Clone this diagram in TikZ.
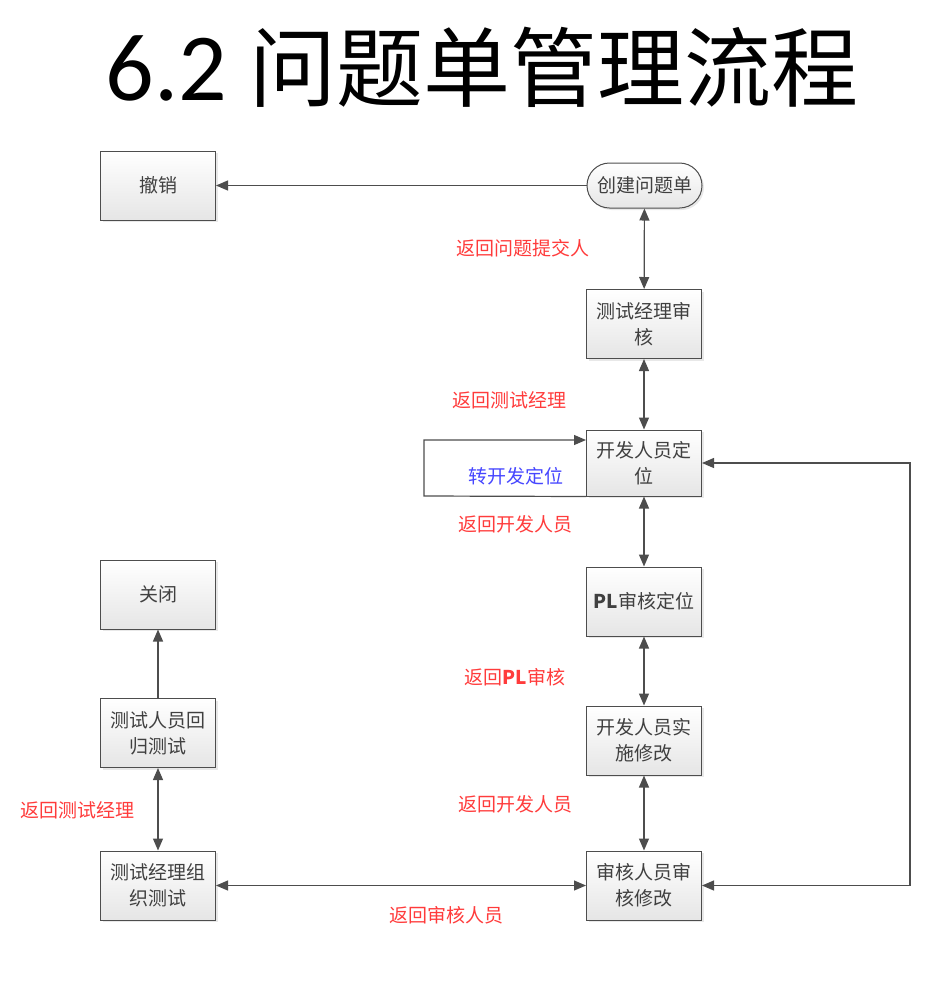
\documentclass[tikz,border=0pt]{standalone}
\usepackage{fontspec}
\setmainfont{Noto Sans CJK SC}
\newfontfamily\titlelat{Carlito}
\usetikzlibrary{arrows.meta,shapes.misc,shadows}
\definecolor{linec}{HTML}{4D4D4D}
\definecolor{txtc}{HTML}{404040}
\definecolor{redc}{HTML}{FF3B3B}
\definecolor{bluec}{HTML}{4646FF}
\tikzset{
  box/.style={draw=linec, line width=1pt, top color=white, bottom color=black!10,
    minimum width=115pt, minimum height=69pt, align=center, text=txtc,
    font=\fontsize{19}{26}\selectfont, inner sep=0pt,
    drop shadow={opacity=0.18, shadow xshift=2pt, shadow yshift=-2pt}},
  pill/.style={box, rounded rectangle, minimum height=45pt, minimum width=115pt},
  lbl/.style={text=redc, font=\fontsize{19}{22}\selectfont, inner sep=0pt},
  bl/.style={text=bluec, font=\fontsize{19}{22}\selectfont, inner sep=0pt},
  conn/.style={draw=linec, line width=1.2pt},
  one/.style={conn, -{Triangle[length=12pt,width=10pt]}},
  two/.style={conn, {Triangle[length=12pt,width=10pt]}-{Triangle[length=12pt,width=10pt]}}
}
\begin{document}
\begin{tikzpicture}[x=1pt,y=-1pt]
\useasboundingbox (0,0) rectangle (928,994);
\node[inner sep=0pt, anchor=base] (title) at (482,100)
  {{\titlelat\fontsize{96}{100}\selectfont 6.2 }{\fontsize{87}{100}\selectfont 问题单管理流程}};

\node[box] (cancel) at (158,185.5) {撤销};
\node[pill] (create) at (644.5,185.5) {创建问题单};
\node[box] (tmreview) at (644,324) {测试经理审\\核};
\node[box, minimum height=66pt] (devloc) at (644,463) {开发人员定\\位};
\node[box] (plreview) at (644,601.5) {\textbf{PL}审核定位};
\node[box] (devfix) at (644,740.5) {开发人员实\\施修改};
\node[box] (audit) at (644,885.5) {审核人员审\\核修改};
\node[box] (close) at (158,594.5) {关闭};
\node[box] (regress) at (158,733) {测试人员回\\归测试};
\node[box] (tmorg) at (158,885.5) {测试经理组\\织测试};

\draw[one] (create) -- (cancel);
\draw[two] (create) -- (tmreview);
\draw[two] (tmreview) -- (devloc);
\draw[two] (devloc) -- (plreview);
\draw[two] (plreview) -- (devfix);
\draw[two] (devfix) -- (audit);
\draw[two] (audit) -- (tmorg);
\draw[two] (tmorg) -- (regress);
\draw[one] (regress) -- (close);

\coordinate (loopA) at (424,496);
\coordinate (loopB) at (424,440);
\draw[one] (devloc.south west) -- (loopA) -- (loopB) -- (devloc.west |- loopB);

\coordinate (rB) at (910,463);
\draw[two] (audit.east) -| (rB) -- (devloc.east);

\node[lbl] (l1) at (523,248) {返回问题提交人};
\node[lbl] (l2) at (509,400) {返回测试经理};
\node[bl] (l3) at (516,476) {转开发定位};
\node[lbl] (l4) at (515,524) {返回开发人员};
\node[lbl] (l5) at (515,677) {返回\textbf{PL}审核};
\node[lbl] (l6) at (515,804) {返回开发人员};
\node[lbl] (l7) at (77,810) {返回测试经理};
\node[lbl] (l8) at (446,915) {返回审核人员};
\end{tikzpicture}
\end{document}
